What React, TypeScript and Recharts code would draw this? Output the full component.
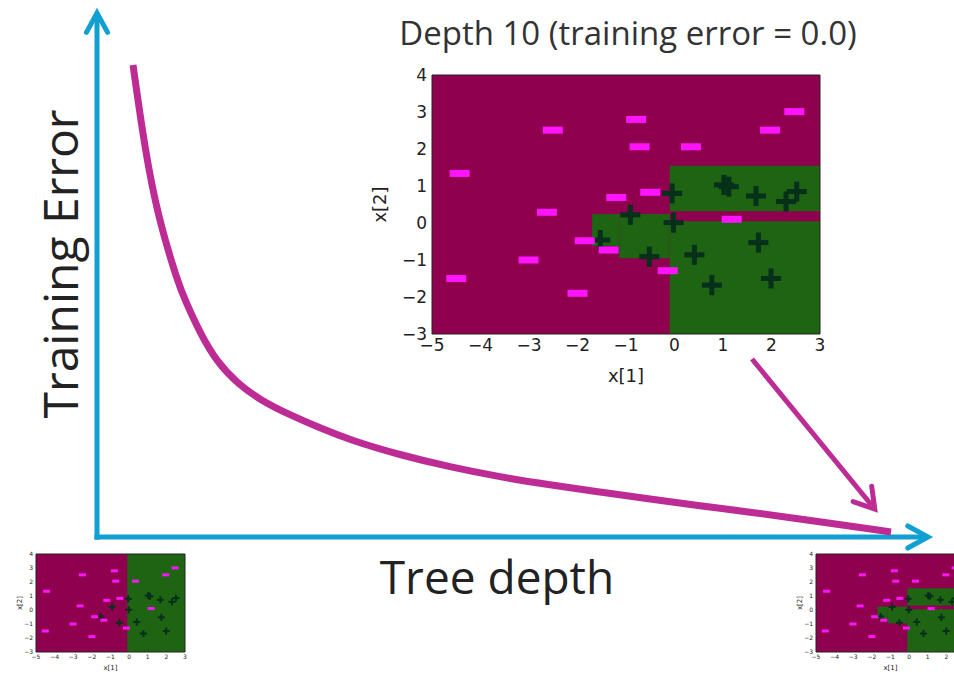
import {
  Line,
  LineChart,
  ReferenceArea,
  ReferenceLine,
  Scatter,
  ScatterChart,
  XAxis,
  YAxis,
} from "recharts";

// sketch curve: tree depth vs training error (both on a 0-100 scale)
const depth = [4.31, 5.74, 7.3, 9.69, 10.53, 12.32, 14.35, 16.75, 19.5, 23.09, 26.67, 30.26, 36.24, 42.22, 48.21, 54.19, 60.17, 66.15, 72.13, 78.11, 84.09, 94.98];
const trainErr = [89.22, 73.16, 60.49, 48.02, 44.8, 38.56, 33.08, 29.11, 25.9, 23.06, 20.6, 18.34, 15.5, 13.23, 11.34, 9.83, 8.51, 7.18, 5.86, 4.73, 3.4, 0.95];

// training points, class -1 (pink dashes) and +1 (dark plus signs)
const negX = [-4.43, -2.51, -0.79, -0.72, 0.34, 1.97, 2.47, -2.63, -1.2, -0.5, 1.18, -1.85, -1.36, -3.01, -4.5, -2.0, -0.14];
const negY = [1.34, 2.51, 2.8, 2.06, 2.06, 2.51, 3.01, 0.29, 0.69, 0.83, 0.1, -0.48, -0.73, -1.0, -1.5, -1.9, -1.29];
const posX = [-0.05, 1.02, 1.12, 1.68, 2.3, 2.52, -0.91, -0.02, -1.53, -0.52, 0.41, 1.73, 0.77, 1.99];
const posY = [0.8, 1.03, 0.98, 0.73, 0.58, 0.85, 0.22, 0.01, -0.46, -0.91, -0.86, -0.53, -1.68, -1.5];

const xTicks = [-5, -4, -3, -2, -1, 0, 1, 2, 3];
const yTicks = [-3, -2, -1, 0, 1, 2, 3, 4];

// leaves predicting +1, as [x1, x2, y1, y2]
const leavesDepth1 = [[-0.1, 3, -3, 4]];
const leavesDepth10 = [
  [-0.1, 3, 0.32, 1.55],
  [-0.1, 3, -3, 0.05],
  [-1.7, -1.14, -0.62, 0.24],
  [-1.14, -0.1, -0.95, 0.24],
];

const curve = depth.map((d, i) => ({ depth: d, err: trainErr[i] }));
const neg = negX.map((x, i) => ({ x, y: negY[i] }));
const pos = posX.map((x, i) => ({ x, y: posY[i] }));

const BLUE = "#10a0d2";
const PINK = "#bd2b95";
const MAROON = "#8f004e";
const GREEN = "#1e6413";
const SANS = "'Open Sans', Lato, sans-serif";
const MPL = "'DejaVu Sans', sans-serif";

const fmt = (v: number) => (v < 0 ? "\u2212" + Math.abs(v) : String(v));

function arrow(color: string, width: number, head: number, spread = 0.5) {
  return (p: any) => {
    const { x1, y1, x2, y2 } = p;
    const a = Math.atan2(y2 - y1, x2 - x1);
    const bx = x2 - Math.cos(a) * width;
    const by = y2 - Math.sin(a) * width;
    const h1 = `${x2 - head * Math.cos(a - spread)},${y2 - head * Math.sin(a - spread)}`;
    const h2 = `${x2 - head * Math.cos(a + spread)},${y2 - head * Math.sin(a + spread)}`;
    return (
      <g>
        <line x1={x1} y1={y1} x2={bx} y2={by} stroke={color} strokeWidth={width} />
        <polyline
          points={`${h1} ${x2},${y2} ${h2}`}
          fill="none"
          stroke={color}
          strokeWidth={width}
          strokeLinejoin="miter"
          strokeLinecap="round"
        />
      </g>
    );
  };
}

const dashShape = (w: number, h: number) => (p: any) => (
  <rect x={p.cx - w / 2} y={p.cy - h / 2} width={w} height={h} fill="#ff14ff" />
);

const plusShape = (s: number, t: number) => (p: any) => (
  <g fill="#06301a">
    <rect x={p.cx - s / 2} y={p.cy - t / 2} width={s} height={t} />
    <rect x={p.cx - t / 2} y={p.cy - s / 2} width={t} height={s} />
  </g>
);

type PlotProps = {
  leaves: number[][];
  w: number;
  h: number;
  margin: { top: number; right: number; left: number; bottom: number };
  yw: number;
  xh: number;
  font: number;
  labelFont: number;
  tickSize: number;
  labelX: number;
  labelY: number;
  dash: [number, number];
  plus: [number, number];
};

function DecisionPlot(props: PlotProps) {
  const { leaves, w, h, margin, yw, xh, font, labelFont, tickSize, labelX, labelY, dash, plus } = props;
  const tick = { fontSize: font, fill: "#222", fontFamily: MPL };
  return (
    <ScatterChart width={w} height={h} margin={margin}>
      <XAxis
        type="number"
        dataKey="x"
        domain={[-5, 3]}
        ticks={xTicks}
        interval={0}
        allowDataOverflow
        tickFormatter={fmt}
        axisLine={false}
        tickLine={false}
        tickSize={tickSize}
        tickMargin={2}
        height={xh}
        tick={tick}
        label={{ value: "x[1]", position: "insideBottom", offset: labelY, fontSize: labelFont, fill: "#222", fontFamily: MPL }}
      />
      <YAxis
        type="number"
        dataKey="y"
        domain={[-3, 4]}
        ticks={yTicks}
        interval={0}
        allowDataOverflow
        tickFormatter={fmt}
        axisLine={false}
        tickLine={false}
        tickSize={tickSize}
        tickMargin={2}
        width={yw}
        tick={tick}
        label={{
          value: "x[2]",
          angle: -90,
          position: "insideLeft",
          offset: labelX,
          fontSize: labelFont,
          fill: "#222",
          fontFamily: MPL,
          style: { textAnchor: "middle" },
        }}
      />
      <ReferenceArea x1={-5} x2={3} y1={-3} y2={4} fill={MAROON} fillOpacity={1} />
      {leaves.map(([x1, x2, y1, y2], i) => (
        <ReferenceArea key={i} x1={x1} x2={x2} y1={y1} y2={y2} fill={GREEN} fillOpacity={1} />
      ))}
      <ReferenceArea x1={-5} x2={3} y1={-3} y2={4} fill="none" stroke="#222" strokeWidth={1} />
      <Scatter data={pos} shape={plusShape(plus[0], plus[1])} isAnimationActive={false} />
      <Scatter data={neg} shape={dashShape(dash[0], dash[1])} isAnimationActive={false} />
    </ScatterChart>
  );
}

const thumb = {
  w: 200,
  h: 134,
  margin: { top: 14, right: 15, left: 0, bottom: 0 },
  yw: 36,
  xh: 22,
  font: 6,
  labelFont: 7,
  tickSize: 1,
  labelX: 20,
  labelY: 4,
  dash: [7, 3] as [number, number],
  plus: [7, 2] as [number, number],
};

const textBase = {
  position: "absolute" as const,
  whiteSpace: "nowrap" as const,
  fontFamily: SANS,
  lineHeight: 1,
  color: "#222",
};

export default function App() {
  return (
    <div style={{ position: "fixed", left: 0, top: 0, width: 954, height: 674, overflow: "hidden", background: "#fff" }}>
      <div style={{ position: "absolute", left: 0, top: 0 }}>
        <LineChart width={954} height={674} data={curve} margin={{ top: 8, right: 21, left: 97, bottom: 137 }}>
          <XAxis type="number" dataKey="depth" domain={[0, 100]} allowDataOverflow hide />
          <YAxis type="number" domain={[0, 100]} allowDataOverflow hide />
          <ReferenceLine
            segment={[{ x: 0, y: -0.5 }, { x: 0, y: 99.05 }]}
            ifOverflow="visible"
            shape={arrow(BLUE, 5, 22, 0.5)}
          />
          <ReferenceLine
            segment={[{ x: -0.3, y: 0 }, { x: 99.4, y: 0 }]}
            ifOverflow="visible"
            shape={arrow(BLUE, 5, 23, 0.5)}
          />
          <Line
            type="basis"
            dataKey="err"
            stroke={PINK}
            strokeWidth={7}
            dot={false}
            isAnimationActive={false}
          />
          <ReferenceLine
            segment={[{ x: 78.35, y: 33.65 }, { x: 93.04, y: 5.27 }]}
            ifOverflow="visible"
            shape={arrow(PINK, 5, 23, 0.55)}
          />
        </LineChart>
      </div>

      <div style={{ ...textBase, left: 60, top: 264, fontSize: 48, transform: "translate(-50%, -50%) rotate(-90deg)" }}>
        Training Error
      </div>
      <div style={{ ...textBase, left: 497, top: 576, fontSize: 46, transform: "translate(-50%, -50%)" }}>
        Tree depth
      </div>
      <div style={{ ...textBase, left: 628, top: 32, fontSize: 33, color: "#333", transform: "translate(-50%, -50%)" }}>
        Depth 10 (training error = 0.0)
      </div>

      <div style={{ position: "absolute", left: 370, top: 60 }}>
        <DecisionPlot
          leaves={leavesDepth10}
          w={470}
          h={335}
          margin={{ top: 15, right: 20, left: 0, bottom: 0 }}
          yw={62}
          xh={61}
          font={17}
          labelFont={18}
          tickSize={3}
          labelX={10}
          labelY={13}
          dash={[20, 7]}
          plus={[20, 5]}
        />
      </div>
      <div style={{ position: "absolute", left: 0, top: 540 }}>
        <DecisionPlot leaves={leavesDepth1} {...thumb} />
      </div>
      <div style={{ position: "absolute", left: 780, top: 540 }}>
        <DecisionPlot leaves={leavesDepth10} {...thumb} />
      </div>
    </div>
  );
}
